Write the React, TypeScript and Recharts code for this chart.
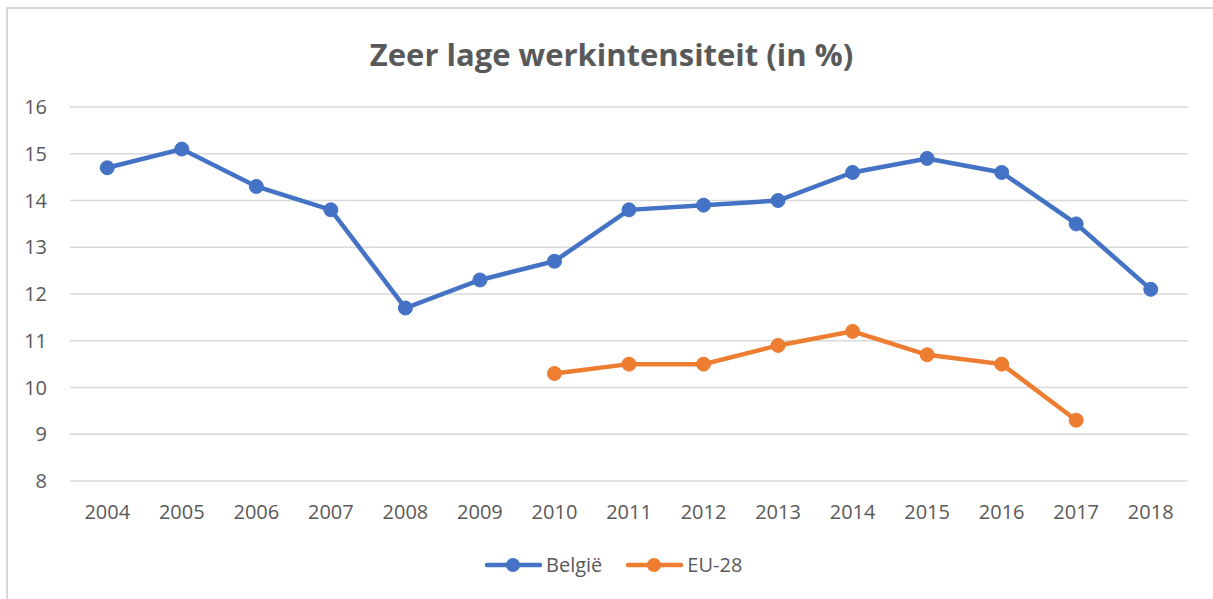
import { LineChart, Line, XAxis, YAxis, CartesianGrid } from "recharts"

const YEARS = ["2004", "2005", "2006", "2007", "2008", "2009", "2010", "2011", "2012", "2013", "2014", "2015", "2016", "2017", "2018"]
const BELGIE = [14.7, 15.1, 14.3, 13.8, 11.7, 12.3, 12.7, 13.8, 13.9, 14.0, 14.6, 14.9, 14.6, 13.5, 12.1]
const EU28 = [null, null, null, null, null, null, 10.3, 10.5, 10.5, 10.9, 11.2, 10.7, 10.5, 9.3, null]
const Y_TICKS = [8, 9, 10, 11, 12, 13, 14, 15, 16]

const BLUE = "#4472C4"
const ORANGE = "#ED7D31"
const TEXT = "#595959"
const FONT = "'Open Sans', sans-serif"

const data = YEARS.map((year, i) => ({ year, belgie: BELGIE[i], eu: EU28[i] }))

const SERIES = [
  { key: "belgie", label: "België", color: BLUE },
  { key: "eu", label: "EU-28", color: ORANGE },
]

function LegendItem({ label, color }: { label: string; color: string }) {
  return (
    <div style={{ display: "flex", alignItems: "center", gap: 4 }}>
      <svg width={57} height={16}>
        <line x1={2} y1={8} x2={55} y2={8} stroke={color} strokeWidth={4.5} strokeLinecap="round" />
        <circle cx={28} cy={8} r={7} fill={color} />
      </svg>
      <span style={{ fontSize: 20, color: TEXT, fontFamily: FONT }}>{label}</span>
    </div>
  )
}

export default function App() {
  return (
    <div style={{ position: "absolute", left: 0, top: 0, width: 1213, height: 599, overflow: "hidden", background: "#fff" }}>
      {/* frame */}
      <div style={{ position: "absolute", left: 6, top: 7, width: 1220, height: 620, border: "2px solid #d9d9d9" }} />

      <div
        style={{
          position: "absolute", left: 0, width: 1223, top: 33, textAlign: "center",
          fontFamily: FONT, fontWeight: 700, fontSize: 31, color: TEXT, lineHeight: "42px",
        }}
      >
        Zeer lage werkintensiteit (in %)
      </div>

      <div style={{ position: "absolute", left: 0, top: 0 }}>
        <LineChart width={1213} height={599} data={data} margin={{ top: 107, right: 25, bottom: 78, left: 0 }}>
          <CartesianGrid vertical={false} stroke="#d9d9d9" strokeWidth={1.5} />
          <XAxis
            dataKey="year"
            scale="band"
            axisLine={false}
            tickLine={false}
            tickSize={0}
            tickMargin={24}
            height={40}
            tick={{ fontSize: 20, fill: TEXT, fontFamily: FONT }}
            interval={0}
          />
          <YAxis
            domain={[8, 16]}
            ticks={Y_TICKS}
            axisLine={false}
            tickLine={false}
            tickSize={0}
            tickMargin={23}
            width={70}
            tick={{ fontSize: 20, fill: TEXT, fontFamily: FONT }}
          />
          {SERIES.map((s) => (
            <Line
              key={s.key}
              dataKey={s.key}
              stroke={s.color}
              strokeWidth={4.5}
              dot={{ r: 7, fill: s.color, stroke: s.color, strokeWidth: 1 }}
              activeDot={false}
              isAnimationActive={false}
              type="linear"
            />
          ))}
        </LineChart>
      </div>

      <div style={{ position: "absolute", left: 485, top: 551, display: "flex", gap: 24 }}>
        {SERIES.map((s) => (
          <LegendItem key={s.key} label={s.label} color={s.color} />
        ))}
      </div>
    </div>
  )
}
